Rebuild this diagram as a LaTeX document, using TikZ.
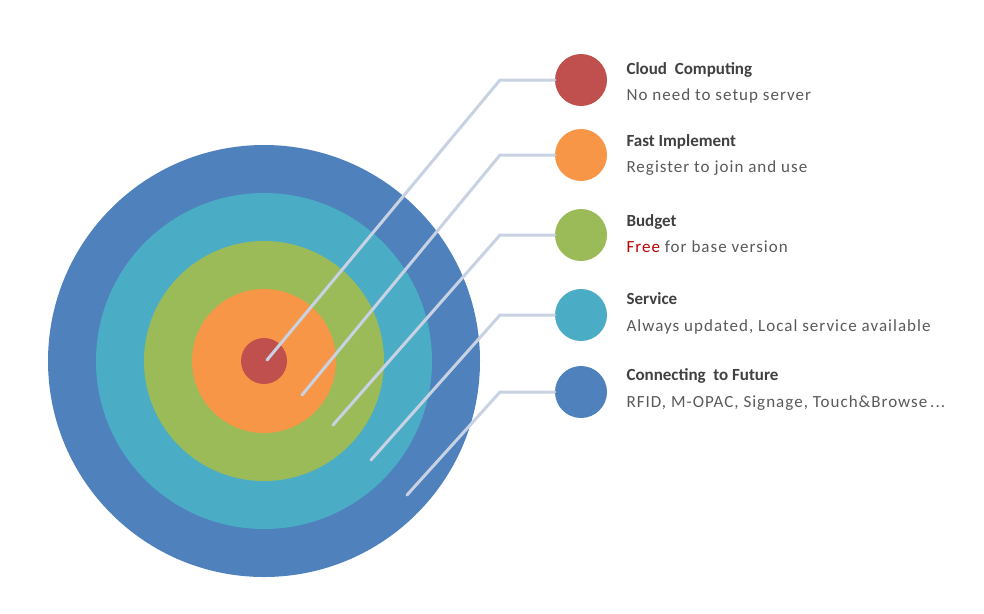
\documentclass[tikz,border=0pt]{standalone}
\usepackage{fontspec}
\setmainfont{Carlito}
\newfontfamily\descfont[LetterSpace=6]{Carlito}
\usetikzlibrary{calc}
\definecolor{RingBlue}{HTML}{4F81BD}
\definecolor{RingAqua}{HTML}{4BACC6}
\definecolor{RingGreen}{HTML}{9BBB59}
\definecolor{RingOrange}{HTML}{F79646}
\definecolor{RingRed}{HTML}{C0504D}
\definecolor{LinkGrey}{HTML}{C8D2E2}
\definecolor{TitleGrey}{HTML}{404040}
\definecolor{TextGrey}{HTML}{595959}
\definecolor{FreeRed}{HTML}{C00000}

\begin{document}
\begin{tikzpicture}[x=1pt, y=-1pt,
        dot/.style={circle, minimum size=52pt, inner sep=0pt},
        link/.style={draw=LinkGrey, line width=3pt, line cap=round, line join=round},
        title/.style={anchor=base west, font=\fontsize{17}{20}\selectfont\bfseries, text=TitleGrey},
        desc/.style={anchor=base west, font=\descfont\fontsize{17}{20}\selectfont, text=TextGrey}]
    \useasboundingbox (0,0) rectangle (984,613);

    % Target rings
    \coordinate (o) at (264,361);
    \fill[RingBlue] (o) circle (216);
    \fill[RingAqua] (o) circle (168);
    \fill[RingGreen] (o) circle (120);
    \fill[RingOrange] (o) circle (72);
    \fill[RingRed] (o) circle (23);

    % Legend dots
    \node[dot, fill=RingRed] (c1) at (581,80) {};
    \node[dot, fill=RingOrange] (c2) at (581,155) {};
    \node[dot, fill=RingGreen] (c3) at (581,235) {};
    \node[dot, fill=RingAqua] (c4) at (581,315) {};
    \node[dot, fill=RingBlue] (c5) at (581,392) {};

    % Legend texts
    \node[title] (t1) at (623,74) {Cloud~~Computing};
    \node[desc] (d1) at (623,100) {No need to setup server};
    \node[title] (t2) at (623,146) {Fast Implement};
    \node[desc] (d2) at (623,172) {Register to join and use};
    \node[title] (t3) at (623,226) {Budget};
    \node[desc] (d3) at (623,252) {\textcolor{FreeRed}{Free} for base version};
    \node[title] (t4) at (623,304) {Service};
    \node[desc] (d4) at (623,331) {Always updated, Local service available};
    \node[title] (t5) at (623,380) {Connecting~~to Future};
    \node[desc] (d5) at (623,407) {RFID, M-OPAC, Signage, Touch\&Browse\,...};

    % Leader lines
    \coordinate (k) at (500,0);
    \coordinate (s1) at (267,360);
    \coordinate (s2) at (302,395);
    \coordinate (s3) at (333,425);
    \coordinate (s4) at (371,460);
    \coordinate (s5) at (407,495);
    \draw[link] (s1) -- (k |- c1.west) -- (c1.west);
    \draw[link] (s2) -- (k |- c2.west) -- (c2.west);
    \draw[link] (s3) -- (k |- c3.west) -- (c3.west);
    \draw[link] (s4) -- (k |- c4.west) -- (c4.west);
    \draw[link] (s5) -- (k |- c5.west) -- (c5.west);
\end{tikzpicture}
\end{document}
